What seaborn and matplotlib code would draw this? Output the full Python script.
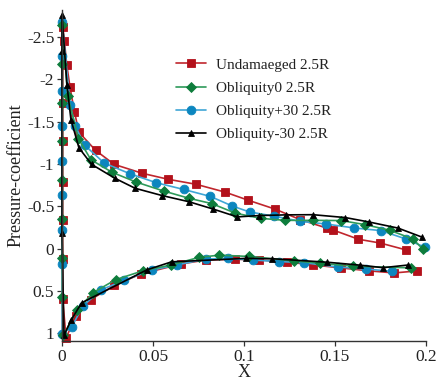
import matplotlib
matplotlib.use("Agg")
import matplotlib.pyplot as plt
import seaborn as sns
import pandas as pd

sns.set_theme(style="ticks")
plt.rcParams["font.family"] = ["Liberation Serif", "DejaVu Serif"]
plt.rcParams["axes.unicode_minus"] = False

# ---------------- data ----------------
series_names = ["Undamaeged 2.5R", "Obliquity0 2.5R", "Obliquity+30 2.5R", "Obliquity-30 2.5R"]

# Undamaged: lower surface (TE -> LE), leading edge (bottom -> top), upper surface (LE -> TE)
red_x = [0.1952, 0.1826, 0.1689, 0.1535, 0.1381, 0.1234, 0.1084, 0.0952, 0.0791, 0.0654,
         0.0434, 0.0287, 0.0159, 0.0077, 0.0022,
         0.0004, 0.0004, 0.0004, 0.0004, 0.0004, 0.0004, 0.0004,
         0.0013, 0.0026, 0.0044, 0.0068, 0.0093, 0.0185, 0.0287, 0.0441, 0.0584, 0.0737,
         0.0897, 0.1023, 0.1172, 0.1308, 0.1455, 0.1491, 0.1629, 0.1749, 0.1892]
red_cp = [0.262, 0.286, 0.262, 0.227, 0.192, 0.156, 0.133, 0.124, 0.133, 0.180,
          0.298, 0.432, 0.600, 0.800, 1.051,
          0.592, 0.121, -0.341, -0.788, -1.271, -1.721, -2.620,
          -2.455, -2.173, -1.909, -1.621, -1.376, -1.161, -0.996, -0.891, -0.820, -0.761,
          -0.668, -0.573, -0.467, -0.344, -0.244, -0.220, -0.112, -0.067, 0.015]

green_x = [0.1915, 0.1599, 0.1418, 0.1277, 0.1025, 0.0864, 0.0753, 0.0599, 0.0447, 0.0295,
           0.0172, 0.0084, 0.0007,
           0.0002, 0.0002, 0.0002, 0.0002, 0.0002, 0.0002, 0.0002, 0.0002,
           0.0031, 0.0090, 0.0159, 0.0276, 0.0407, 0.0558, 0.0698, 0.0823, 0.0953, 0.1091,
           0.1227, 0.1377, 0.1533, 0.1664, 0.1801, 0.1929, 0.1984]
green_cp = [0.226, 0.206, 0.171, 0.144, 0.091, 0.076, 0.102, 0.192, 0.259, 0.365,
            0.518, 0.721, 1.024,
            0.573, 0.109, -0.356, -0.806, -1.271, -1.721, -2.185, -2.641,
            -1.808, -1.302, -1.051, -0.902, -0.788, -0.682, -0.596, -0.533, -0.420, -0.359,
            -0.335, -0.335, -0.333, -0.285, -0.218, -0.114, 0.008]

blue_x = [0.1813, 0.1671, 0.1515, 0.1331, 0.1190, 0.1047, 0.0911, 0.0791, 0.0630, 0.0493,
          0.0342, 0.0214, 0.0114, 0.0053,
          0.0001, 0.0001, 0.0001, 0.0001, 0.0001, 0.0001, 0.0001, 0.0001, 0.0001,
          0.0044, 0.0073, 0.0126, 0.0232, 0.0374, 0.0519, 0.0669, 0.0815, 0.0935, 0.1031,
          0.1165, 0.1308, 0.1451, 0.1607, 0.1753, 0.1891, 0.1996]
blue_cp = [0.268, 0.239, 0.216, 0.165, 0.151, 0.133, 0.115, 0.121, 0.192, 0.251,
           0.373, 0.486, 0.679, 0.926,
           1.004, 0.180, -0.227, -0.635, -1.041, -1.447, -1.859, -2.271, -2.674,
           -1.702, -1.447, -1.220, -1.012, -0.885, -0.779, -0.700, -0.618, -0.505, -0.434,
           -0.385, -0.324, -0.292, -0.245, -0.214, -0.114, -0.015]

black_x = [0.1903, 0.1764, 0.1638, 0.1455, 0.1154, 0.1009, 0.0602, 0.0467, 0.0108, 0.0049,
           0.0011,
           0.0000, 0.0000, 0.0000,
           0.0027, 0.0049, 0.0093, 0.0163, 0.0291, 0.0402, 0.0552, 0.0696, 0.0827, 0.0963,
           0.1084, 0.1231, 0.1379, 0.1557, 0.1689, 0.1846, 0.1977]
black_cp = [0.192, 0.224, 0.194, 0.159, 0.118, 0.114, 0.155, 0.249, 0.639, 0.847,
            1.024,
            -0.190, -2.340, -2.760,
            -1.938, -1.526, -1.192, -0.996, -0.832, -0.714, -0.627, -0.556, -0.471, -0.376,
            -0.392, -0.400, -0.402, -0.368, -0.315, -0.244, -0.138]

x_ticks = [0, 0.05, 0.1, 0.15, 0.2]
x_tick_labels = ["0", "0.05", "0.1", "0.15", "0.2"]
y_ticks = [-2.5, -2, -1.5, -1, -0.5, 0, 0.5, 1]
y_tick_labels = ["-2.5", "-2", "-1.5", "-1", "-0.5", "0", "0.5", "1"]

# ---------------- styling ----------------
styles = {
    "Undamaeged 2.5R": dict(line="#C0262D", face="#B3111B", marker="s", ms=6.0),
    "Obliquity0 2.5R": dict(line="#2E9A5A", face="#0E7D3C", marker="D", ms=5.2),
    "Obliquity+30 2.5R": dict(line="#3FA6D6", face="#0C86BF", marker="o", ms=6.3),
    "Obliquity-30 2.5R": dict(line="#000000", face="#000000", marker="^", ms=4.2),
}

data = {
    "Undamaeged 2.5R": (red_x, red_cp),
    "Obliquity0 2.5R": (green_x, green_cp),
    "Obliquity+30 2.5R": (blue_x, blue_cp),
    "Obliquity-30 2.5R": (black_x, black_cp),
}

fig = plt.figure(figsize=(4.37, 3.80), dpi=100)
ax = fig.add_axes([62 / 437, 1 - 341 / 380, (426 - 62) / 437, (341 - 10) / 380])

draw_order = ["Undamaeged 2.5R", "Obliquity+30 2.5R", "Obliquity0 2.5R", "Obliquity-30 2.5R"]
handles = {}
for name in draw_order:
    xs, cps = data[name]
    st = styles[name]
    df = pd.DataFrame({"X": xs, "Cp": cps})
    sns.lineplot(data=df, x="X", y="Cp", sort=False, estimator=None, ax=ax,
                 color=st["line"], linewidth=1.2, marker=st["marker"],
                 markersize=st["ms"], markerfacecolor=st["face"],
                 markeredgecolor=st["face"], markeredgewidth=0.6,
                 label=name, clip_on=False)
    handles[name] = ax.get_lines()[-1]

ax.set_xlim(0, 0.2)
ax.set_ylim(1.09, -2.82)
ax.set_xticks(x_ticks)
ax.set_xticklabels(x_tick_labels)
ax.set_yticks(y_ticks)
ax.set_yticklabels(y_tick_labels)

for s in ["top", "right"]:
    ax.spines[s].set_visible(False)
for s in ["left", "bottom"]:
    ax.spines[s].set_color("#333333")
    ax.spines[s].set_linewidth(1.0)
ax.tick_params(axis="both", direction="out", length=3.5, width=0.9,
               colors="#333333", labelsize=12.5, labelcolor="#222222", pad=2)

ax.set_xlabel("X", fontsize=13, color="#222222")
ax.xaxis.set_label_coords(0.5, -0.068)
ax.set_ylabel("Pressure-coefficient", fontsize=13, color="#222222", labelpad=2)

leg = ax.legend([handles[n] for n in series_names], series_names,
                loc="upper left", bbox_to_anchor=(0.313, 0.855), frameon=False,
                fontsize=11, handlelength=2.0, handletextpad=0.65,
                labelspacing=0.62, borderpad=0, borderaxespad=0)
for t in leg.get_texts():
    t.set_color("#222222")

fig.savefig("out.png", dpi=100)
